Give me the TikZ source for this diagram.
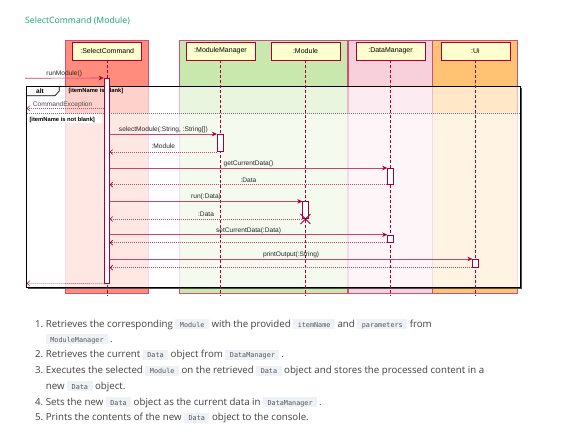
\documentclass[tikz,border=0pt]{standalone}
\usepackage{fontspec}
\setmainfont{Open Sans}
\newfontfamily\umlfont{Liberation Sans}
\newfontfamily\codefont{DejaVu Sans Mono}
\usetikzlibrary{arrows.meta, calc}

\definecolor{titlegreen}{RGB}{27,163,112}
\definecolor{umlred}{RGB}{168,0,54}
\definecolor{msgred}{RGB}{196,70,110}
\definecolor{lanebd}{RGB}{205,80,120}
\definecolor{headfill}{RGB}{254,254,206}
\definecolor{lanered}{RGB}{255,140,124}
\definecolor{lanegreen}{RGB}{200,232,174}
\definecolor{lanepink}{RGB}{248,208,220}
\definecolor{laneorange}{RGB}{255,195,115}
\definecolor{bodytext}{RGB}{64,64,64}
\definecolor{codebg}{RGB}{238,241,245}
\definecolor{codetext}{RGB}{85,85,85}

\newcommand{\code}[1]{{\setlength\fboxsep{0pt}\colorbox{codebg}{\rule[-2pt]{0pt}{10pt}\hspace{4.5pt}{\codefont\fontsize{6.8}{7}\selectfont\color{codetext}#1}\hspace{4.5pt}}}}

\tikzset{
  head/.style={draw=umlred, fill=headfill, line width=0.7, minimum width=69, minimum height=17.7, inner sep=0, font=\umlfont\fontsize{7}{8}\selectfont},
  act/.style={draw=umlred, fill=white, line width=0.6, minimum width=5.6, inner sep=0},
  lifeline/.style={draw=umlred, line width=0.6, dash pattern=on 2.5pt off 2.5pt},
  call/.style={draw=msgred, line width=0.6, -{Stealth[length=5pt,width=4.5pt,color=umlred]}},
  ret/.style={draw=msgred, line width=0.6, dash pattern=on 1pt off 1pt, -{Straight Barb[length=2.5pt,width=5pt,color=umlred]}},
  lbl/.style={anchor=base, inner sep=0, text=black!85, font=\umlfont\fontsize{6.6}{8}\selectfont},
  guard/.style={anchor=base west, inner sep=0, font=\umlfont\bfseries\fontsize{5.8}{7}\selectfont},
  item/.style={anchor=base west, inner sep=0, text=bodytext, font=\fontsize{9.7}{12}\selectfont}
}

\begin{document}
\begin{tikzpicture}[x=1pt,y=1pt,yscale=-1,xscale=1]
\useasboundingbox[fill=white] (0,0) rectangle (565,439);

% Title
\node[anchor=base west, inner sep=0, text=titlegreen, font=\fontsize{8.7}{10}\selectfont] (title) at (25,23.5) {SelectCommand (Module)};

% Boxes round the participants
\filldraw[fill=lanered, draw=lanebd, line width=0.6] (65,40.7) rectangle (148.3,293);
\filldraw[fill=lanegreen, draw=lanebd, line width=0.6] (179,40.7) rectangle (347.7,293);
\filldraw[fill=lanepink, draw=lanebd, line width=0.6] (348.3,40.7) rectangle (432.7,293);
\filldraw[fill=laneorange, draw=lanebd, line width=0.6] (432.7,40.7) rectangle (517.3,293);

% alt frame, washed background
\fill[white, opacity=0.6] (26.7,86) rectangle (520.7,113);
\fill[white, opacity=0.8] (26.7,113) rectangle (520.7,287.3);
\draw[black!70, line width=1.4] (521.6,87.5) -- (521.6,288.2) -- (28,288.2);
\draw[black, line width=0.9] (26.7,86) rectangle (520.7,287.3);
\draw[black!55, line width=0.6, dash pattern=on 1pt off 1pt] (26.7,113) -- (520.7,113);
\draw[black, line width=0.7] (26.7,95.7) -- (55,95.7) -- (59.3,91) -- (59.3,86);
\node[anchor=base, inner sep=0, font=\umlfont\bfseries\fontsize{6.5}{7}\selectfont] (altlbl) at (40,93) {alt};
\node[guard] (g1) at (68.3,92.3) {[itemName is blank]};
\fill[white] (28.3,113.6) rectangle (101.7,123.4);
\node[guard] (g2) at (29.3,121.3) {[itemName is not blank]};

% Participants
\node[head] (scH) at (107.2,51.15) {:SelectCommand};
\node[head] (mmH) at (220.5,51.15) {:ModuleManager};
\node[head] (moH) at (305.5,51.15) {:Module};
\node[head] (dmH) at (390.5,51.15) {:DataManager};
\node[head] (uiH) at (475.5,51.15) {:Ui};

% Lifelines
\foreach \p in {sc,mm,mo,dm,ui}
  \draw[lifeline] (\p H.south) -- ++(0,235.5);

% Activations
\node[act, minimum height=205] (scA) at (106.7,180.8) {};
\node[act, minimum height=17.4] (mmA) at (220,143) {};
\node[act, minimum height=16] (dmA1) at (390.3,176.3) {};
\node[act, minimum height=17] (moA) at (305.4,210.2) {};
\node[act, minimum height=7.3] (dmA2) at (390.3,238.65) {};
\node[act, minimum height=8] (uiA) at (475.5,263.3) {};

% Free ends
\coordinate (start) at (25,78.3);
\coordinate (exc) at (26.7,108.3);
\coordinate (stop) at (26.7,283.3);

% Messages
\draw[call] (start) -- (scA.north west);
\node[lbl] at (64.2,75.9) {runModule()};
\draw[ret] (scA.west |- exc) -- (exc);
\node[lbl, anchor=base west, text=black!70] at (32.7,106) {CommandException};

\draw[call] (scA.east |- mmA.north) -- (mmA.north west);
\node[lbl] at ($(scA.east |- mmA.north)!0.5!(mmA.north west) + (0,-2.6)$) {selectModule(:String, :String[])};
\draw[ret] (mmA.south west) -- (scA.east |- mmA.south);
\node[lbl] at ($(scA.east |- mmA.south)!0.5!(mmA.south west) + (0,-3.2)$) {:Module};

\draw[call] (scA.east |- dmA1.north) -- (dmA1.north west);
\node[lbl] at ($(scA.east |- dmA1.north)!0.5!(dmA1.north west) + (0,-2.6)$) {getCurrentData()};
\draw[ret] (dmA1.south west) -- (scA.east |- dmA1.south);
\node[lbl] at ($(scA.east |- dmA1.south)!0.5!(dmA1.south west) + (0,-2.6)$) {:Data};

\draw[call] (scA.east |- moA.north) -- (moA.north west);
\node[lbl] at ($(scA.east |- moA.north)!0.5!(moA.north west) + (0,-2.6)$) {run(:Data)};
\draw[ret] (moA.south west) -- (scA.east |- moA.south);
\node[lbl] at ($(scA.east |- moA.south)!0.5!(moA.south west) + (0,-2.6)$) {:Data};
\draw[umlred, line width=0.9] ($(moA.south)+(-5,-5)$) -- ($(moA.south)+(5,5)$);
\draw[umlred, line width=0.9] ($(moA.south)+(-5,5)$) -- ($(moA.south)+(5,-5)$);

\draw[call] (scA.east |- dmA2.north) -- (dmA2.north west);
\node[lbl] at ($(scA.east |- dmA2.north)!0.5!(dmA2.north west) + (0,-2.6)$) {setCurrentData(:Data)};
\draw[ret] (dmA2.south west) -- (scA.east |- dmA2.south);

\draw[call] (scA.east |- uiA.north) -- (uiA.north west);
\node[lbl] at ($(scA.east |- uiA.north)!0.5!(uiA.north west) + (0,-2.6)$) {printOutput(:String)};
\draw[ret] (uiA.south west) -- (scA.east |- uiA.south);

\draw[ret] (scA.south west) -- (stop);

% Numbered list
\node[item] (n1) at (35,327.3) {1.};
\node[item] (t1) at (45.7,327.3) {Retrieves the corresponding \code{Module} with the provided \code{itemName} and \code{parameters} from};
\node[item] (t1b) at (45.7,342) {\code{ModuleManager}\hspace{2pt}.};
\node[item] (n2) at (35,357.5) {2.};
\node[item] (t2) at (45.7,357.5) {Retrieves the current \code{Data} object from \code{DataManager}\hspace{2pt}.};
\node[item] (n3) at (35,373.5) {3.};
\node[item] (t3) at (45.7,373.5) {Executes the selected \code{Module} on the retrieved \code{Data} object and stores the processed content in a};
\node[item] (t3b) at (45.7,389) {new \code{Data} object.};
\node[item] (n4) at (35,405) {4.};
\node[item] (t4) at (45.7,405) {Sets the new \code{Data} object as the current data in \code{DataManager}\hspace{2pt}.};
\node[item] (n5) at (35,420.5) {5.};
\node[item] (t5) at (45.7,420.5) {Prints the contents of the new \code{Data} object to the console.};

\end{tikzpicture}
\end{document}
